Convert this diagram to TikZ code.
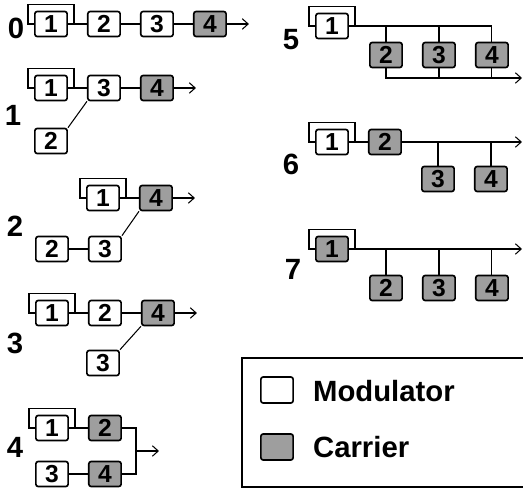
\documentclass[tikz,border=0pt]{standalone}
\usepackage{fontspec}
\setmainfont{Liberation Sans}
\usetikzlibrary{positioning, arrows.meta}
\tikzset{
  mod/.style={rectangle, rounded corners=2pt, draw=black, line width=1.4pt, minimum width=0.97cm, minimum height=0.75cm, inner sep=0pt, fill=white, font=\fontsize{21}{21}\selectfont\bfseries},
  car/.style={mod, fill=black!38},
  wire/.style={line width=0.9pt},
  arrow/.style={wire, -{Straight Barb[length=5pt, width=9pt]}},
  alg/.style={font=\fontsize{25}{25}\selectfont\bfseries},
  legtext/.style={font=\fontsize{25}{25}\selectfont\bfseries, anchor=west}
}
\newcommand{\fbloop}[1]{\draw[wire] (#1.east) -- ++(6,0) |- ([shift={(-6,6)}]#1.north west) |- (#1.west);}

\begin{document}
\begin{tikzpicture}[x=0.03cm, y=0.03cm, node distance=0.57cm]
  \clip (0,0) rectangle (523,-488);

  % --- algoritmo 0 ---
  \node (lab0) [alg] at (16,-28) {0};
  \node (a0o1) [mod] at (51,-24) {1};
  \node (a0o2) [mod, right=of a0o1] {2};
  \node (a0o3) [mod, right=of a0o2] {3};
  \node (a0o4) [car, right=of a0o3] {4};
  \draw [wire] (a0o1) -- (a0o2);
  \draw [wire] (a0o2) -- (a0o3);
  \draw [wire] (a0o3) -- (a0o4);
  \draw [arrow] (a0o4.east) -- ++(22,0);
  \fbloop{a0o1}

  % --- algoritmo 1 ---
  \node (lab1) [alg] at (13,-115) {1};
  \node (a1o1) [mod] at (51,-88) {1};
  \node (a1o3) [mod, right=of a1o1] {3};
  \node (a1o4) [car, right=of a1o3] {4};
  \node (a1o2) [mod] at (51,-141) {2};
  \draw [wire] (a1o1) -- (a1o3);
  \draw [wire] (a1o3) -- (a1o4);
  \draw [wire] (a1o2.north east) -- (a1o3.south west);
  \draw [arrow] (a1o4.east) -- ++(22,0);
  \fbloop{a1o1}

  % --- algoritmo 2 ---
  \node (lab2) [alg] at (15,-226) {2};
  \node (a2o1) [mod] at (103,-198) {1};
  \node (a2o4) [car, right=of a2o1] {4};
  \node (a2o2) [mod] at (52,-249) {2};
  \node (a2o3) [mod, right=of a2o2] {3};
  \draw [wire] (a2o1) -- (a2o4);
  \draw [wire] (a2o2) -- (a2o3);
  \draw [wire] (a2o3.north east) -- (a2o4.south west);
  \draw [arrow] (a2o4.east) -- ++(22,0);
  \fbloop{a2o1}

  % --- algoritmo 3 ---
  \node (lab3) [alg] at (15,-343) {3};
  \node (a3o1) [mod] at (52,-313) {1};
  \node (a3o2) [mod, right=of a3o1] {2};
  \node (a3o4) [car, right=of a3o2] {4};
  \node (a3o3) [mod] at (103,-363) {3};
  \draw [wire] (a3o1) -- (a3o2);
  \draw [wire] (a3o2) -- (a3o4);
  \draw [wire] (a3o3.north east) -- (a3o4.south west);
  \draw [arrow] (a3o4.east) -- ++(22,0);
  \fbloop{a3o1}

  % --- algoritmo 4 ---
  \node (lab4) [alg] at (15,-447) {4};
  \node (a4o1) [mod] at (52,-428) {1};
  \node (a4o2) [car, right=of a4o1] {2};
  \node (a4o3) [mod] at (52,-474) {3};
  \node (a4o4) [car, right=of a4o3] {4};
  \coordinate (a4join) at (136,-451);
  \coordinate (a4out) at (159,-451);
  \draw [wire] (a4o1) -- (a4o2);
  \draw [wire] (a4o3) -- (a4o4);
  \draw [wire] (a4o2.east) -| (a4join) |- (a4o4.east);
  \draw [arrow] (a4join) -- (a4out);
  \fbloop{a4o1}

  % --- algoritmo 5 ---
  \node (lab5) [alg] at (291,-40) {5};
  \node (a5o1) [mod] at (332,-26) {1};
  \node (a5o2) [car] at (386,-55) {2};
  \node (a5o3) [car, right=of a5o2] {3};
  \node (a5o4) [car, right=of a5o3] {4};
  \coordinate (a5out) at (522,-78);
  \draw [wire] (a5o1.east) -| (a5o4.north);
  \draw [wire] (a5o2.north) -- (a5o2.north |- a5o1.east);
  \draw [wire] (a5o3.north) -- (a5o3.north |- a5o1.east);
  \draw [arrow] (a5o2.south) |- (a5out);
  \draw [wire] (a5o3.south) -- (a5o3.south |- a5out);
  \draw [wire] (a5o4.south) -- (a5o4.south |- a5out);
  \fbloop{a5o1}

  % --- algoritmo 6 ---
  \node (lab6) [alg] at (291,-164) {6};
  \node (a6o1) [mod] at (332,-142) {1};
  \node (a6o2) [car, right=of a6o1] {2};
  \node (a6o3) [car] at (438,-179) {3};
  \node (a6o4) [car, right=of a6o3] {4};
  \coordinate (a6out) at (522,-142);
  \draw [wire] (a6o1) -- (a6o2);
  \draw [arrow] (a6o2.east) -- (a6out);
  \draw [wire] (a6o3.north) -- (a6o3.north |- a6out);
  \draw [wire] (a6o4.north) -- (a6o4.north |- a6out);
  \fbloop{a6o1}

  % --- algoritmo 7 ---
  \node (lab7) [alg] at (293,-269) {7};
  \node (a7o1) [car] at (332,-249) {1};
  \node (a7o2) [car] at (386,-288) {2};
  \node (a7o3) [car, right=of a7o2] {3};
  \node (a7o4) [car, right=of a7o3] {4};
  \coordinate (a7out) at (522,-249);
  \draw [arrow] (a7o1.east) -- (a7out);
  \draw [wire] (a7o2.north) -- (a7o2.north |- a7out);
  \draw [wire] (a7o3.north) -- (a7o3.north |- a7out);
  \draw [wire] (a7o4.north) -- (a7o4.north |- a7out);
  \fbloop{a7o1}

  % --- leyenda ---
  \draw [line width=1pt] (242,-358) rectangle (560,-487);
  \node (legmod) [mod, minimum height=0.78cm] at (277,-390) {};
  \node (legcar) [car, minimum height=0.78cm] at (277,-447) {};
  \node (legmodtxt) [legtext] at (309,-391) {Modulator};
  \node (legcartxt) [legtext] at (309,-447) {Carrier};
\end{tikzpicture}
\end{document}
